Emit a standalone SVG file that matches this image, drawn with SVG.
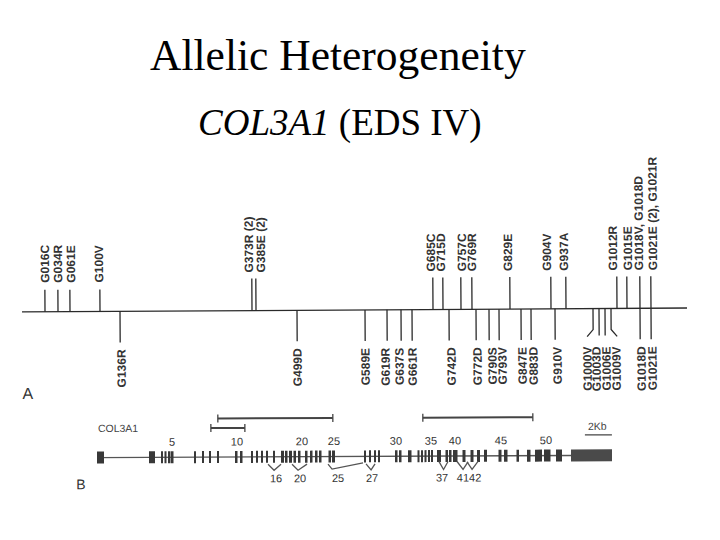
<svg xmlns="http://www.w3.org/2000/svg" width="720" height="540" viewBox="0 0 720 540">
<style>
.title{font-family:"Liberation Serif","Times New Roman",serif;fill:#000}
.ln{stroke:#2a2a2a;stroke-width:1.3;fill:none}
.lbl{font-family:"Liberation Sans",Arial,sans-serif;font-size:12px;font-weight:bold;fill:#333}
.num{font-family:"Liberation Sans",Arial,sans-serif;font-size:11px;fill:#333}
.ex{fill:#383838}
.bar{stroke:#444;stroke-width:2;fill:none}
.tk{stroke:#444;stroke-width:1.3;fill:none}
.gl{stroke:#555;stroke-width:1.3;fill:none}
</style>
<rect width="720" height="540" fill="#fff"/>
<g id="title">
<text class="title" x="150" y="70" font-size="43.5">Allelic Heterogeneity</text>
<text class="title" x="198" y="135" font-size="37"><tspan font-style="italic">COL3A1</tspan> (EDS IV)</text>
</g>

<g id="panelA" transform="rotate(-0.34 354 310)">
<g id="connectors">
<line class="ln" x1="22" y1="310" x2="687" y2="310" stroke-width="1.5"/>
<path class="ln" d="M45 288V310M58 288V310M70 288V310M100 288V310"/>
<path class="ln" d="M252 278V310M256 278V310M433 278V310M443 278V310M461 278V310M472 278V310M510 278V310M551 278V310M566 278V310M617 278V310M627 278V310M640 278V310M651 278V310"/>
<path class="ln" d="M120 310V341M297 310V341M365 310V341M387 310V341M401 310V341M412 310V341M449 310V341M476 310V341M489 310V341M499 310V341M521 310V341M531 310V341M555 310V341M640 310V341M651 310V341"/>
<path class="ln" d="M593 310V331L587 338M599 310V337M605 310V337M611 310V331L617 338"/>
</g>
<g id="topLabels" class="lbl">
<text transform="translate(45,281) rotate(-90)" y="4.3">G016C</text>
<text transform="translate(58,281) rotate(-90)" y="4.3">G034R</text>
<text transform="translate(71,281) rotate(-90)" y="4.3">G061E</text>
<text transform="translate(99,281) rotate(-90)" y="4.3">G100V</text>
<text transform="translate(249,272) rotate(-90)" y="4.3">G373R (2)</text>
<text transform="translate(261,272) rotate(-90)" y="4.3">G385E (2)</text>
<text transform="translate(431,272) rotate(-90)" y="4.3">G685C</text>
<text transform="translate(441,272) rotate(-90)" y="4.3">G715D</text>
<text transform="translate(462,272) rotate(-90)" y="4.3">G757C</text>
<text transform="translate(472,272) rotate(-90)" y="4.3">G769R</text>
<text transform="translate(508,272) rotate(-90)" y="4.3">G829E</text>
<text transform="translate(547,272) rotate(-90)" y="4.3">G904V</text>
<text transform="translate(564,272) rotate(-90)" y="4.3">G937A</text>
<text transform="translate(613,272) rotate(-90)" y="4.3">G1012R</text>
<text transform="translate(628,272) rotate(-90)" y="4.3">G1015E</text>
<text transform="translate(639,272) rotate(-90)" y="4.3">G1018V, G1018D</text>
<text transform="translate(653,272) rotate(-90)" y="4.3">G1021E (2), G1021R</text>
</g>
<g id="bottomLabels" class="lbl" text-anchor="end">
<text transform="translate(121,348) rotate(-90)" y="4.3">G136R</text>
<text transform="translate(297,348) rotate(-90)" y="4.3">G499D</text>
<text transform="translate(365,348) rotate(-90)" y="4.3">G589E</text>
<text transform="translate(385,348) rotate(-90)" y="4.3">G619R</text>
<text transform="translate(399,348) rotate(-90)" y="4.3">G637S</text>
<text transform="translate(412,348) rotate(-90)" y="4.3">G661R</text>
<text transform="translate(451,348) rotate(-90)" y="4.3">G742D</text>
<text transform="translate(477,348) rotate(-90)" y="4.3">G772D</text>
<text transform="translate(492,348) rotate(-90)" y="4.3">G790S</text>
<text transform="translate(502,348) rotate(-90)" y="4.3">G793V</text>
<text transform="translate(522,348) rotate(-90)" y="4.3">G847E</text>
<text transform="translate(533,348) rotate(-90)" y="4.3">G883D</text>
<text transform="translate(557,348) rotate(-90)" y="4.3">G910V</text>
<text transform="translate(587,348) rotate(-90)" y="4.3">G1000V</text>
<text transform="translate(596,348) rotate(-90)" y="4.3">G1003D</text>
<text transform="translate(606,348) rotate(-90)" y="4.3">G1006E</text>
<text transform="translate(616,348) rotate(-90)" y="4.3">G1009V</text>
<text transform="translate(641,348) rotate(-90)" y="4.3">G1018D</text>
<text transform="translate(652,348) rotate(-90)" y="4.3">G1021E</text>
</g>
<text id="labelA" x="22" y="397" font-family="Liberation Sans, Arial, sans-serif" font-size="16" fill="#333">A</text>
</g>

<g id="panelB" transform="rotate(-0.25 340 456.5)">
<text id="labelB" x="76" y="488" font-family="Liberation Sans, Arial, sans-serif" font-size="14" fill="#333">B</text>
<text id="geneName" x="98" y="431" font-family="Liberation Sans, Arial, sans-serif" font-size="10.5" fill="#444">COL3A1</text>
<g id="scaleBars">
<path class="bar" d="M218 418H333M423 418H533M211 427.5H245"/>
<path class="tk" d="M218 414V422M333 414V422M423 414V422M533 414V422M211 423.5V431.5M245 423.5V431.5"/>
<text x="588" y="431" font-family="Liberation Sans, Arial, sans-serif" font-size="10.5" fill="#444">2Kb</text>
<line class="tk" x1="585" y1="436" x2="612" y2="436" stroke-width="1.2"/>
</g>
<line class="gl" x1="97" y1="456.5" x2="572" y2="456.5"/>
<g id="exons" class="ex">
<rect x="97" y="450.5" width="7" height="12"/>
<rect x="149" y="450.5" width="6" height="12"/>
<rect x="161" y="450.5" width="2" height="12"/>
<rect x="164.5" y="450.5" width="2" height="12"/>
<rect x="168" y="450.5" width="2" height="12"/>
<rect x="170.5" y="450.5" width="3" height="12"/>
<rect x="194" y="450.5" width="2" height="12"/>
<rect x="202" y="450.5" width="2" height="12"/>
<rect x="209" y="450.5" width="2" height="12"/>
<rect x="217" y="450.5" width="2" height="12"/>
<rect x="235" y="450.5" width="2.5" height="12"/>
<rect x="240" y="450.5" width="2.5" height="12"/>
<rect x="251" y="450.5" width="2" height="12"/>
<rect x="256" y="450.5" width="2" height="12"/>
<rect x="261" y="450.5" width="2" height="12"/>
<rect x="266" y="450.5" width="2" height="12"/>
<rect x="273" y="450.5" width="2" height="12"/>
<rect x="281" y="450.5" width="3" height="12"/>
<rect x="285" y="450.5" width="2.5" height="12"/>
<rect x="289" y="450.5" width="3" height="12"/>
<rect x="293.5" y="450.5" width="2.5" height="12"/>
<rect x="298" y="450.5" width="2.5" height="12"/>
<rect x="305" y="450.5" width="2.5" height="12"/>
<rect x="310" y="450.5" width="2.5" height="12"/>
<rect x="315" y="450.5" width="2.5" height="12"/>
<rect x="319" y="450.5" width="2.5" height="12"/>
<rect x="328.5" y="450.5" width="2.5" height="12"/>
<rect x="332" y="450.5" width="3" height="12"/>
<rect x="364" y="450.5" width="2" height="12"/>
<rect x="369" y="450.5" width="2" height="12"/>
<rect x="374" y="450.5" width="2" height="12"/>
<rect x="378" y="450.5" width="2" height="12"/>
<rect x="395" y="450.5" width="2.5" height="12"/>
<rect x="399" y="450.5" width="2.5" height="12"/>
<rect x="408" y="450.5" width="3.5" height="12"/>
<rect x="417.5" y="450.5" width="2" height="12"/>
<rect x="421" y="450.5" width="2" height="12"/>
<rect x="424.5" y="450.5" width="2" height="12"/>
<rect x="428" y="450.5" width="2" height="12"/>
<rect x="431" y="450.5" width="2" height="12"/>
<rect x="437" y="450.5" width="4" height="12"/>
<rect x="445.5" y="450.5" width="2.5" height="12"/>
<rect x="449" y="450.5" width="2.5" height="12"/>
<rect x="453" y="450.5" width="4.5" height="12"/>
<rect x="462.5" y="450.5" width="3" height="12"/>
<rect x="470.5" y="450.5" width="3" height="12"/>
<rect x="477" y="450.5" width="3" height="12"/>
<rect x="484" y="450.5" width="3" height="12"/>
<rect x="498.5" y="450.5" width="3" height="12"/>
<rect x="504" y="450.5" width="3.5" height="12"/>
<rect x="516.5" y="450.5" width="2.5" height="12"/>
<rect x="527" y="450.5" width="3.5" height="12"/>
<rect x="535" y="450.5" width="7" height="12"/>
<rect x="544" y="450.5" width="6.5" height="12"/>
<rect x="556" y="450.5" width="6" height="12"/>
<rect x="571" y="450.5" width="41" height="12" fill="#4a4a4a"/>
</g>
<g id="splices" class="gl" stroke-width="1.1">
<path d="M268 464L274 470L281 464"/>
<path d="M292 464L298 470L307 464"/>
<path d="M328 464L332 469L363 463"/>
<path d="M366 464L371 470L375 464"/>
<path d="M439 462L443.5 470L448 462"/>
<path d="M457 462L463 470L468 462.5"/>
<path d="M467 462.5L472 470L478 462"/>
</g>
<g id="exonNumbers" class="num" text-anchor="middle">
<text x="172" y="445">5</text>
<text x="237" y="445">10</text>
<text x="302" y="445">20</text>
<text x="334" y="445">25</text>
<text x="396" y="445">30</text>
<text x="431" y="445">35</text>
<text x="455" y="445">40</text>
<text x="501" y="445">45</text>
<text x="546" y="445">50</text>
<text x="276" y="482">16</text>
<text x="300" y="482">20</text>
<text x="338" y="482">25</text>
<text x="372" y="482">27</text>
<text x="442" y="482">37</text>
<text x="469" y="482">4142</text>
</g>
</g>
</svg>
